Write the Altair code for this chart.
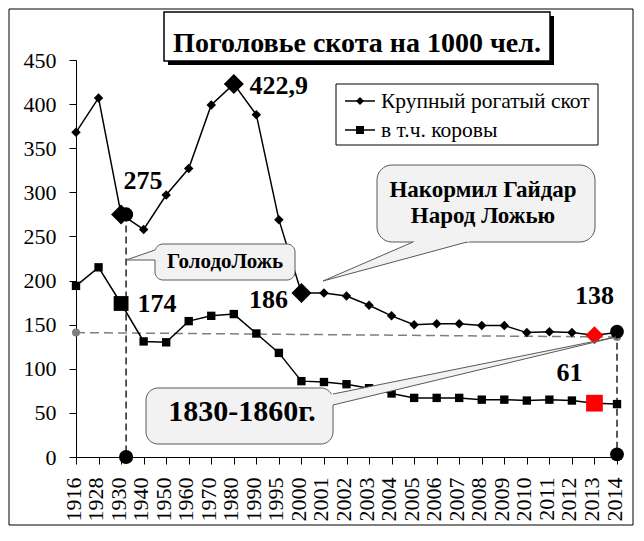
import altair as alt
import pandas as pd

# ---------------- data ----------------
years = ["1916", "1928", "1930", "1940", "1950", "1960", "1970", "1980", "1990", "1995",
         "2000", "2001", "2002", "2003", "2004", "2005", "2006", "2007", "2008", "2009",
         "2010", "2011", "2012", "2013", "2014"]
cattle = [368, 407, 275, 258, 297, 327, 399, 422.9, 388, 269,
          186, 186, 182.5, 172, 160, 150, 151, 151, 149, 149,
          141, 142, 141, 138, 141]
cows = [194, 215, 174, 131, 130, 154, 160, 162, 140, 118,
        86, 85, 82.5, 78, 72, 67, 67, 67, 65, 65,
        64, 65, 64, 61, 60]

big_diamond_years = ["1930", "1980", "2000"]
big_square_years = ["1930"]
red_year = "2013"
level_1830_1860 = [141, 136]          # dashed level: value at 1916 and at 2014
guide_1930 = [275, 0]                 # vertical guide at 1930: top, bottom
guide_2014 = [142, 3]                 # vertical guide at 2014: top, bottom

title_text = "Поголовье скота на 1000 чел."
legend_names = ["Крупный рогатый скот", "в т.ч. коровы"]
callout1 = "ГолодоЛожь"
callout2 = ["Накормил Гайдар", "Народ Ложью"]
callout3 = "1830-1860г."

# ---------------- layout ----------------
FONT = "Liberation Serif, Times New Roman, serif"
W, H = 541, 397
OX, OY = 76, 60        # page position of the plot's top-left corner
CALL_FILL = "#f2f2f2"
CALL_STROKE = "#595959"

df = pd.DataFrame({"year": years, "cattle": cattle, "cows": cows})

xs = alt.Scale(type="point", domain=years, padding=0)
ys = alt.Scale(domain=[0, 450], nice=False, zero=True)


def X(axis=None):
    return alt.X("year:O", scale=xs, axis=axis, title=None)


def Y(field, axis=None):
    return alt.Y(f"{field}:Q", scale=ys, axis=axis, title=None)


xaxis = alt.Axis(title=None, labelAngle=-90, labelFont=FONT, labelFontSize=22,
                 labelColor="black", tickSize=7, tickColor="black", domainColor="black",
                 labelPadding=13, labelOffset=-3, labelOverlap=False, grid=False)
yaxis = alt.Axis(title=None, values=list(range(0, 451, 50)), labelFont=FONT,
                 labelFontSize=22, labelColor="black", tickSize=7, tickColor="black",
                 domainColor="black", labelPadding=13, grid=False)

base = alt.Chart(df)

# guides
lvl = pd.DataFrame({"year": [years[0], years[-1]], "v": level_1830_1860})
level_line = alt.Chart(lvl).mark_line(color="#7f7f7f", strokeWidth=1.5, strokeDash=[9, 5]).encode(
    x=X(), y=Y("v"))
level_dots = alt.Chart(lvl).mark_point(shape="circle", filled=True, color="#7f7f7f",
                                       size=64, opacity=1).encode(x=X(), y=Y("v"))

g30 = pd.DataFrame({"year": ["1930"], "top": [guide_1930[0]], "bot": [guide_1930[1]]})
g14 = pd.DataFrame({"year": ["2014"], "top": [guide_2014[0]], "bot": [guide_2014[1]]})
rule30 = alt.Chart(g30).mark_rule(color="#222222", strokeWidth=1.5, strokeDash=[7, 4], xOffset=5).encode(
    x=X(), y=Y("top"), y2="bot")
rule14 = alt.Chart(g14).mark_rule(color="#222222", strokeWidth=1.5, strokeDash=[7, 4]).encode(
    x=X(), y=Y("top"), y2="bot")

c30 = pd.DataFrame({"year": ["1930", "1930"], "v": guide_1930})
c14 = pd.DataFrame({"year": ["2014", "2014"], "v": guide_2014})
circ30 = alt.Chart(c30).mark_point(shape="circle", filled=True, color="black", size=200,
                                   opacity=1, xOffset=5).encode(x=X(), y=Y("v"))
circ14 = alt.Chart(c14).mark_point(shape="circle", filled=True, color="black", size=190,
                                   opacity=1).encode(x=X(), y=Y("v"))

# series
cattle_line = base.mark_line(color="black", strokeWidth=1.5).encode(
    x=X(xaxis), y=Y("cattle", yaxis))
cows_line = base.mark_line(color="black", strokeWidth=1.5).encode(x=X(), y=Y("cows"))
cattle_pts = base.mark_point(shape="diamond", filled=True, color="black", size=90, opacity=1).encode(
    x=X(), y=Y("cattle"))
cows_pts = base.mark_point(shape="square", filled=True, color="black", size=70, opacity=1).encode(
    x=X(), y=Y("cows"))

big_d = base.transform_filter(alt.FieldOneOfPredicate(field="year", oneOf=big_diamond_years)).mark_point(
    shape="diamond", filled=True, color="black", size=400, opacity=1).encode(x=X(), y=Y("cattle"))
big_s = base.transform_filter(alt.FieldOneOfPredicate(field="year", oneOf=big_square_years)).mark_point(
    shape="square", filled=True, color="black", size=220, opacity=1).encode(x=X(), y=Y("cows"))
red_d = base.transform_filter(alt.datum.year == red_year).mark_point(
    shape="diamond", filled=True, color="#ff0000", size=324, opacity=1).encode(x=X(), y=Y("cattle"))
red_s = base.transform_filter(alt.datum.year == red_year).mark_point(
    shape="square", filled=True, color="#ff0000", size=280, opacity=1).encode(x=X(), y=Y("cows"))


def value_label(year, field, text, dx, dy):
    d = df[df["year"] == year][["year", field]].copy()
    d["t"] = text
    return alt.Chart(d).mark_text(font=FONT, fontSize=26, fontWeight="bold", color="black",
                                  align="center", baseline="alphabetic", dx=dx, dy=dy).encode(
        x=X(), y=Y(field), text="t:N")


labels = [
    value_label("1930", "cattle", "275", 22, -25),
    value_label("1980", "cattle", "422,9", 45, 10),
    value_label("2000", "cattle", "186", -33, 15),
    value_label("1930", "cows", "174", 36, 8.5),
    value_label("2013", "cattle", "138", 0, -31),
    value_label("2013", "cows", "61", -25, -22),
]

data_layers = [cattle_line, level_line, rule30, rule14, cows_line, cattle_pts, cows_pts,
               big_d, big_s, red_d, red_s, level_dots, circ30, circ14, *labels]

# ---------------- decorations in pixel space ----------------
pxs = alt.Scale(domain=[0, W], nice=False, zero=False)
pys = alt.Scale(domain=[0, H], nice=False, zero=False, reverse=True)


def PX(f):
    return alt.X(f"{f}:Q", scale=pxs, axis=None)


def PY(f):
    return alt.Y(f"{f}:Q", scale=pys, axis=None)


def rect(x1, y1, x2, y2, **mk):
    d = pd.DataFrame({"a": [x1 - OX], "b": [x2 - OX], "c": [y1 - OY], "e": [y2 - OY]})
    return alt.Chart(d).mark_rect(**mk).encode(x=PX("a"), x2=alt.X2("b"), y=PY("c"), y2=alt.Y2("e"))


def text(x, y, s, **mk):
    d = pd.DataFrame({"a": [x - OX], "c": [y - OY], "t": [s]})
    return alt.Chart(d).mark_text(font=FONT, color="black", **mk).encode(
        x=PX("a"), y=PY("c"), text="t:N")


def polyline(points, **mk):
    d = pd.DataFrame({"a": [p[0] - OX for p in points], "c": [p[1] - OY for p in points],
                      "o": list(range(len(points)))})
    return alt.Chart(d).mark_line(**mk).encode(x=PX("a"), y=PY("c"), order="o:Q")


def symbol(x, y, shape, size):
    d = pd.DataFrame({"a": [x - OX], "c": [y - OY]})
    return alt.Chart(d).mark_point(shape=shape, filled=True, color="black", size=size, opacity=1).encode(
        x=PX("a"), y=PY("c"))


def pointer(tip, b1, b2, orient, inset=4):
    tx, ty = tip
    layers = []
    if orient == "vertical":
        bx = b1[0]
        s = 1 if bx > tx else -1
        nx = bx + s * inset
        f = (nx - tx) / (bx - tx)
        y1 = ty + (b1[1] - ty) * f
        y2 = ty + (b2[1] - ty) * f
        d = pd.DataFrame({"a": [tx - OX, nx - OX], "c": [ty - OY, y1 - OY], "e": [ty - OY, y2 - OY]})
        layers.append(alt.Chart(d).mark_area(color=CALL_FILL, opacity=1, orient="vertical").encode(
            x=PX("a"), y=PY("c"), y2=alt.Y2("e")))
    else:
        by = b1[1]
        s = 1 if by > ty else -1
        ny = by + s * inset
        f = (ny - ty) / (by - ty)
        x1 = tx + (b1[0] - tx) * f
        x2 = tx + (b2[0] - tx) * f
        d = pd.DataFrame({"c": [ty - OY, ny - OY], "a": [tx - OX, x1 - OX], "e": [tx - OX, x2 - OX]})
        layers.append(alt.Chart(d).mark_area(color=CALL_FILL, opacity=1, orient="horizontal").encode(
            y=PY("c"), x=PX("a"), x2=alt.X2("e")))
    layers.append(polyline([b1, tip, b2], color=CALL_STROKE, strokeWidth=1))
    return layers


deco = [
    # outer frame
    rect(9, 9, 633, 525, fill="white", fillOpacity=0, stroke="black", strokeWidth=1),
    # title box with shadow
    rect(168, 16, 554, 65, fill="black"),
    rect(164, 12, 550, 61, fill="white", stroke="black", strokeWidth=1.5),
    text(357, 52, title_text, fontSize=28, fontWeight="bold", align="center", baseline="alphabetic"),
    # legend
    rect(336, 84, 598, 145, fill="white", stroke="black", strokeWidth=1),
    polyline([(345, 101), (375, 101)], color="black", strokeWidth=1.5),
    polyline([(345, 130), (375, 130)], color="black", strokeWidth=1.5),
    symbol(360, 101, "diamond", 64),
    symbol(360, 130, "square", 64),
    text(381, 108, legend_names[0], fontSize=21.5, align="left", baseline="alphabetic"),
    text(381, 137, legend_names[1], fontSize=21.5, align="left", baseline="alphabetic"),
    # callout 1
    rect(155, 244, 295, 280, fill=CALL_FILL, stroke=CALL_STROKE, strokeWidth=1, cornerRadius=8),
    *pointer((126, 260), (155, 250), (155, 260), "vertical"),
    text(225, 268, callout1, fontSize=21, fontWeight="bold", align="center", baseline="alphabetic"),
    # callout 2
    rect(377, 165, 595, 242, fill=CALL_FILL, stroke=CALL_STROKE, strokeWidth=1, cornerRadius=15),
    *pointer((323, 281), (413, 242), (467, 242), "horizontal"),
    text(483, 197, callout2[0], fontSize=23, fontWeight="bold", align="center", baseline="alphabetic"),
    text(483, 223, callout2[1], fontSize=23, fontWeight="bold", align="center", baseline="alphabetic"),
    # callout 3
    rect(146, 388, 333, 444, fill=CALL_FILL, stroke=CALL_STROKE, strokeWidth=1, cornerRadius=12),
    *pointer((616, 337), (333, 394), (333, 405), "vertical"),
    text(242, 421, callout3, fontSize=30, fontWeight="bold", align="center", baseline="alphabetic"),
]

chart = alt.layer(*data_layers, *deco).resolve_scale(
    x="independent", y="independent"
).properties(
    width=W, height=H,
    padding={"left": 68, "top": 52, "right": 17, "bottom": 69},
    autosize=alt.AutoSizeParams(type="none"),
    background="white",
).configure_view(stroke=None)

chart.save("out.html", embed_options={"renderer": "svg", "actions": False})
